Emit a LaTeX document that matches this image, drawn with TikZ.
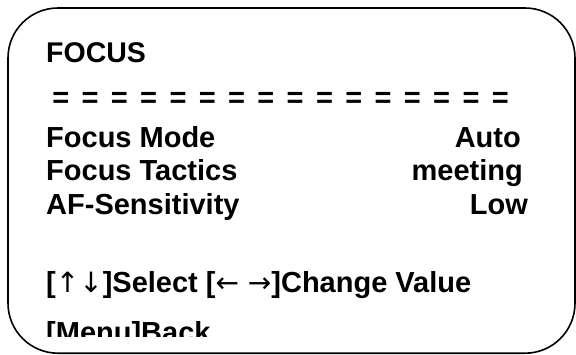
\documentclass[tikz,border=0pt]{standalone}
\usepackage{fontspec}
\setmainfont{Liberation Sans}
\newfontfamily\keyfont{DejaVu Sans}
\newcommand{\keyarr}[1]{{\keyfont\mdseries\fontsize{28}{28}\selectfont #1}}

\begin{document}
\begin{tikzpicture}[x=1pt, y=-1pt]
\useasboundingbox (0,0) rectangle (576,354);
% frame of the menu
\draw[line width=1.6pt, rounded corners=50pt] (8,8) rectangle (575,353.2);

\begin{scope}[every node/.style={inner sep=0pt, font=\fontsize{29}{32}\selectfont\bfseries}]
  \node[anchor=base west, font=\fontsize{28.5}{32}\selectfont\bfseries] (title) at (46,62) {FOCUS};
  \foreach \i in {0,...,15}
    \node (eq\i) at (60.8+29.3*\i,99.5) {=};
  \node[anchor=base west] (modeL) at (46,147) {Focus Mode};
  \node[anchor=base east] (modeV) at (521,147) {Auto};
  \node[anchor=base west] (tactL) at (46,180) {Focus Tactics};
  \node[anchor=base east] (tactV) at (523,180) {meeting};
  \node[anchor=base west] (sensL) at (46,214) {AF-Sensitivity};
  \node[anchor=base east] (sensV) at (528,214) {Low};
  \node[anchor=base west] (keys) at (46,292)
    {[\keyarr{↑↓}]Select [\keyarr{← →}]Change Value};
\end{scope}

% last line is cut by the window
\begin{scope}
  \clip (0,0) rectangle (576,336);
  \node[anchor=base west, inner sep=0pt, font=\fontsize{29}{32}\selectfont\bfseries]
    (back) at (46,342) {[Menu]Back};
\end{scope}
\end{tikzpicture}
\end{document}
